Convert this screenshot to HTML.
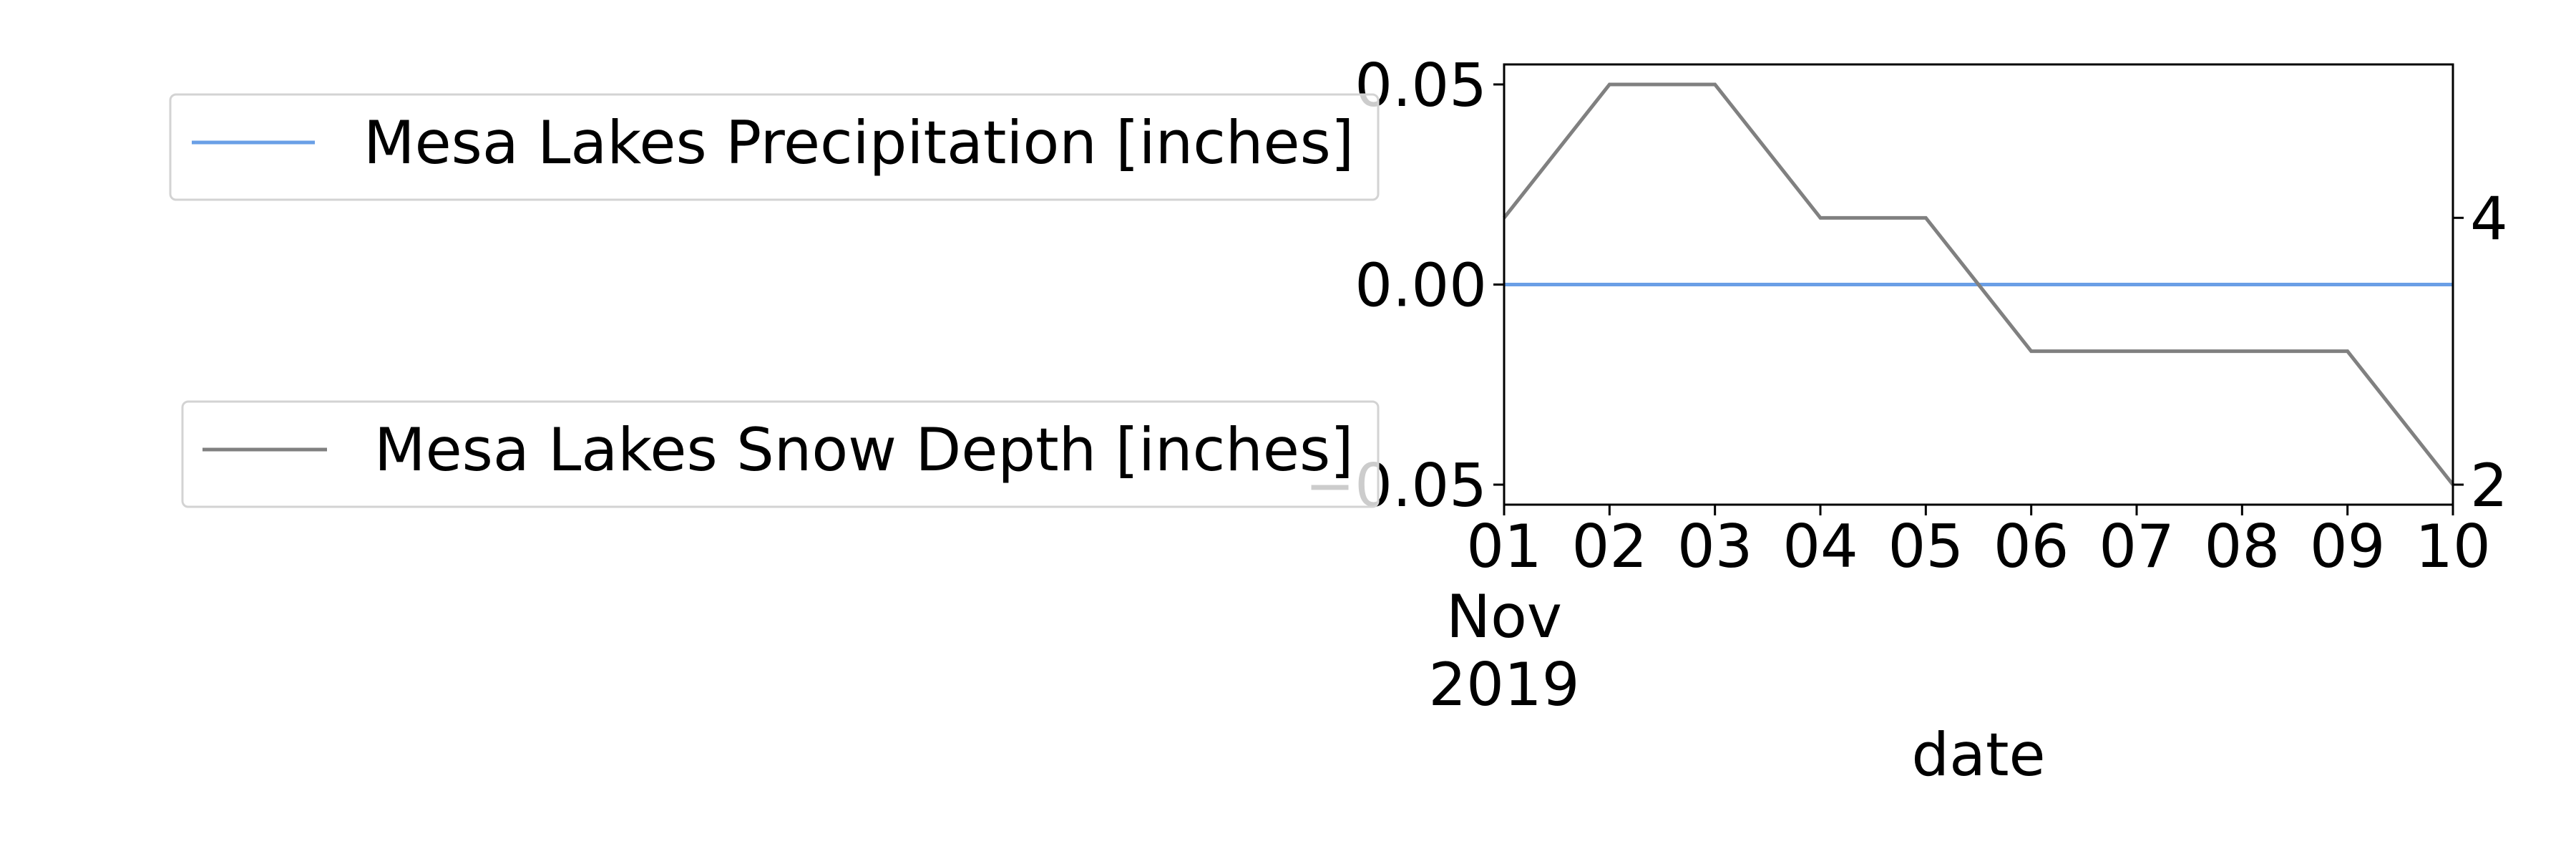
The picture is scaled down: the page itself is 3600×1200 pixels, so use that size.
<!DOCTYPE html>
<html><head><meta charset="utf-8"><style>
html,body{margin:0;padding:0;background:#fff;}
svg{display:block;font-family:"DejaVu Sans","Liberation Sans",sans-serif;}
</style></head><body>
<svg id="chart" width="3600" height="1200" viewBox="0 0 3600 1200" xmlns="http://www.w3.org/2000/svg">
<rect x="0" y="0" width="3600" height="1200" fill="#fff"/>
<g id="plot"></g>
</svg>
<script>
const days = [1,2,3,4,5,6,7,8,9,10];
const dayLabels = ['01','02','03','04','05','06','07','08','09','10'];
const precip = [0,0,0,0,0,0,0,0,0,0];
const snow = [4,5,5,4,4,3,3,3,3,2];
const leftTicks = [0.05,0,-0.05];
const leftTickLabels = ['0.05','0.00','\u22120.05'];
const rightTicks = [4,2];
const rightTickLabels = ['4','2'];

const NS='http://www.w3.org/2000/svg';
const L=2102,R=3428,T=90,B=705;
const xS=d=>L+(d-1)*(R-L)/9;
const yL=v=>T+(0.055-v)*(B-T)/0.11;
const yR=v=>T+(5.15-v)*(B-T)/3.3;
const g=document.getElementById('plot');
function mk(tag,attrs,parent){const e=document.createElementNS(NS,tag);for(const k in attrs)e.setAttribute(k,attrs[k]);(parent||g).appendChild(e);return e;}

// series
const p1=mk('polyline',{points:days.map((d,i)=>xS(d)+','+yL(precip[i])).join(' '),fill:'none',stroke:'#6a9fe6','stroke-width':5});


const p2=mk('polyline',{points:days.map((d,i)=>xS(d)+','+yR(snow[i])).join(' '),fill:'none',stroke:'#808080','stroke-width':5,'stroke-linejoin':'miter'});



// frame
const fr=mk('rect',{x:L,y:T,width:R-L,height:B-T,fill:'none',stroke:'#000','stroke-width':3});



// x ticks
days.forEach((d,i)=>{
  const t=mk('line',{x1:xS(d),x2:xS(d),y1:B,y2:B+15,stroke:'#000','stroke-width':3});
  
  
  const tx=mk('text',{x:xS(d),y:792,'font-size':83,'text-anchor':'middle',fill:'#000'});
  tx.textContent=dayLabels[i];
  
  
});
const nov=mk('text',{x:xS(1),y:890,'font-size':83,'text-anchor':'middle'});nov.textContent='Nov';


const yr=mk('text',{x:xS(1),y:985,'font-size':83,'text-anchor':'middle'});yr.textContent='2019';


const xt=mk('text',{x:(L+R)/2,y:1083,'font-size':83,'text-anchor':'middle'});xt.textContent='date';



// left ticks
leftTicks.forEach((v,i)=>{
  const t=mk('line',{x1:L-15,x2:L,y1:yL(v),y2:yL(v),stroke:'#000','stroke-width':3});
  
  
  const tx=mk('text',{x:L-24,y:yL(v)+30,'font-size':83,'text-anchor':'end'});
  tx.textContent=leftTickLabels[i];
  
  
});
// right ticks
rightTicks.forEach((v,i)=>{
  const t=mk('line',{x1:R,x2:R+15,y1:yR(v),y2:yR(v),stroke:'#000','stroke-width':3});
  
  
  const tx=mk('text',{x:R+24,y:yR(v)+30,'font-size':83,'text-anchor':'start'});
  tx.textContent=rightTickLabels[i];
  
  
});

// legends
function legend(name,x,y,w,h,lx1,lx2,ly,color,tx,label){
  const grp=mk('g',{});
  
  
  const bx=mk('rect',{x:x,y:y,width:w,height:h,rx:8,fill:'#fff','fill-opacity':0.8,stroke:'#d3d3d3','stroke-width':3},grp);
  
  
  const ln=mk('line',{x1:lx1,x2:lx2,y1:ly,y2:ly,stroke:color,'stroke-width':5},grp);
  
  
  const t=mk('text',{x:tx,y:ly+29,'font-size':83},grp);
  t.textContent=label;
  
  
}
legend('precipitation-legend',238,132,1688,147,268,440,199,'#6a9fe6',508,'Mesa Lakes Precipitation [inches]');
legend('snow-depth-legend',255,561,1671,147,283,457,628,'#808080',523,'Mesa Lakes Snow Depth [inches]');
</script>
</body></html>
